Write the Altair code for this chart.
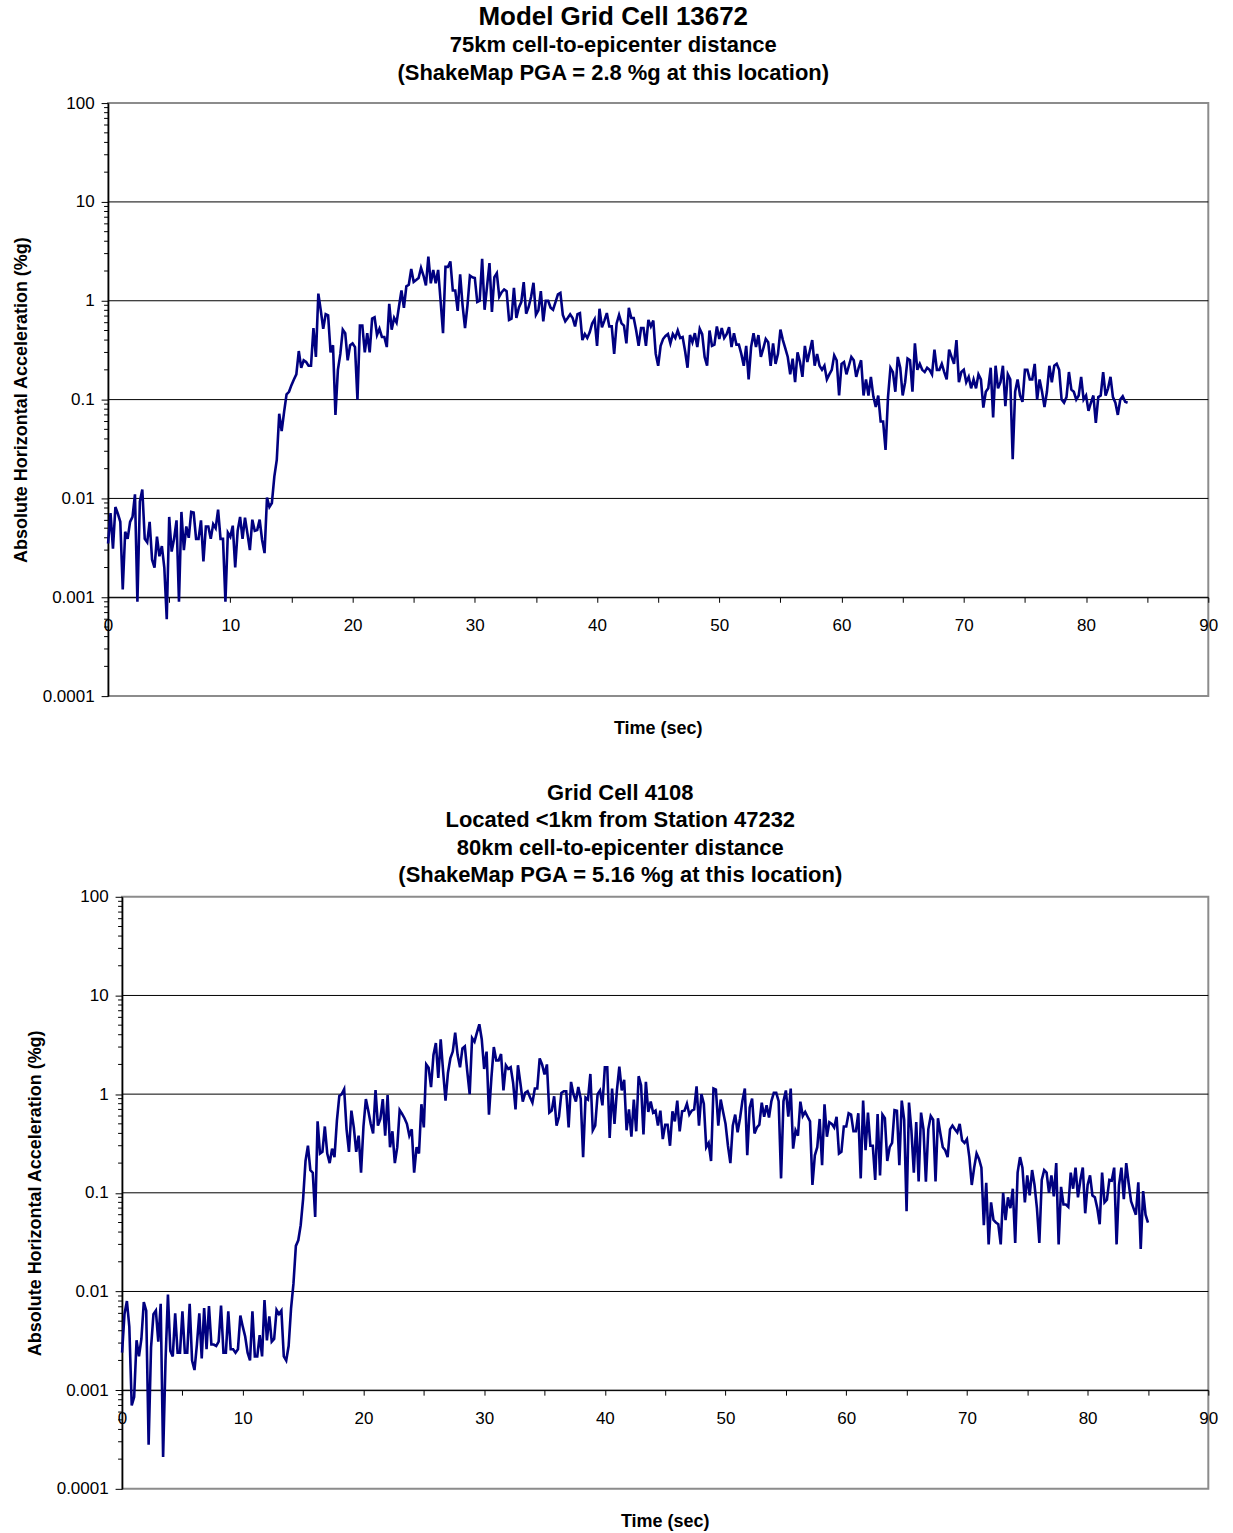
import altair as alt
import pandas as pd

FONT = "Liberation Sans"
DT = 0.2  # sampling interval of the records (s)

# Panel 1 - Model Grid Cell 13672 (absolute horizontal acceleration, %g)
acc1 = [
    0.0035, 0.0071, 0.0031, 0.0082, 0.007, 0.0058, 0.0012, 0.0046, 0.0039, 0.0058,
    0.0065, 0.011, 0.0009, 0.0093, 0.0123, 0.0039, 0.0036, 0.0058, 0.0024, 0.002,
    0.0041, 0.0026, 0.0033, 0.002, 0.0006, 0.0065, 0.0029, 0.0039, 0.006, 0.0009,
    0.0073, 0.003, 0.0052, 0.004, 0.0073, 0.0072, 0.0039, 0.0039, 0.006, 0.0023,
    0.0052, 0.0052, 0.0039, 0.0055, 0.005, 0.0077, 0.0039, 0.0039, 0.0009, 0.0045,
    0.0041, 0.0053, 0.002, 0.0047, 0.0065, 0.0039, 0.0064, 0.0044, 0.003, 0.0061,
    0.0047, 0.0048, 0.0061, 0.0038, 0.0028, 0.0102, 0.0082, 0.009, 0.0166, 0.0245,
    0.072, 0.048, 0.075, 0.113, 0.12, 0.14, 0.16, 0.18, 0.31, 0.21,
    0.25, 0.24, 0.22, 0.22, 0.53, 0.27, 1.18, 0.80, 0.52, 0.73,
    0.71, 0.30, 0.355, 0.07, 0.2, 0.29, 0.51, 0.47, 0.25, 0.355,
    0.37, 0.34, 0.1, 0.56, 0.56, 0.30, 0.47, 0.30, 0.66, 0.68,
    0.45, 0.52, 0.43, 0.43, 0.34, 0.93, 0.51, 0.67, 0.60, 0.88,
    1.27, 0.85, 1.4, 1.45, 2.1, 1.55, 1.62, 1.7, 2.15, 1.8,
    1.43, 2.8, 1.5, 2.05, 1.5, 2.05, 1.0, 0.47, 2.2, 2.2,
    2.5, 1.27, 1.27, 0.79, 1.85, 0.9, 0.53, 0.9, 1.8, 1.73,
    1.7, 0.97, 1.0, 2.65, 0.81, 1.4, 2.4, 0.77, 1.73, 1.9,
    1.1, 1.22, 1.3, 1.25, 0.64, 0.66, 1.35, 0.67, 0.85, 0.97,
    1.54, 0.74, 0.86, 1.09, 1.52, 0.72, 0.8, 1.25, 0.62, 1.0,
    1.0, 0.85, 0.81, 0.97, 1.16, 1.2, 0.72, 0.62, 0.67, 0.73,
    0.67, 0.55, 0.73, 0.75, 0.4, 0.46, 0.42, 0.48, 0.59, 0.65,
    0.35, 0.83, 0.54, 0.63, 0.75, 0.55, 0.55, 0.29, 0.59, 0.72,
    0.59, 0.56, 0.37, 0.85, 0.67, 0.67, 0.5, 0.35, 0.53, 0.53,
    0.35, 0.64, 0.55, 0.63, 0.29, 0.22, 0.35, 0.41, 0.44, 0.46,
    0.37, 0.46, 0.42, 0.5, 0.42, 0.43, 0.31, 0.21, 0.45, 0.38,
    0.47, 0.34, 0.52, 0.46, 0.27, 0.22, 0.5, 0.35, 0.36, 0.55,
    0.41, 0.53, 0.42, 0.46, 0.54, 0.34, 0.47, 0.36, 0.36, 0.29,
    0.22, 0.35, 0.16, 0.34, 0.47, 0.34, 0.45, 0.27, 0.33, 0.41,
    0.38, 0.22, 0.37, 0.23, 0.29, 0.51, 0.4, 0.33, 0.27, 0.18,
    0.26, 0.15, 0.3, 0.24, 0.17, 0.35, 0.24, 0.31, 0.40, 0.22,
    0.29, 0.22, 0.2, 0.22, 0.16, 0.18, 0.2, 0.28, 0.25, 0.11,
    0.23, 0.24, 0.18, 0.22, 0.27, 0.25, 0.17, 0.21, 0.25, 0.11,
    0.16, 0.11, 0.17, 0.108, 0.084, 0.11, 0.06, 0.06, 0.031, 0.106,
    0.21, 0.19, 0.12, 0.27, 0.21, 0.11, 0.15, 0.26, 0.25, 0.12,
    0.37, 0.2, 0.23, 0.2, 0.19, 0.21, 0.2, 0.18, 0.32, 0.2,
    0.2, 0.23, 0.19, 0.16, 0.32, 0.27, 0.23, 0.40, 0.15, 0.19,
    0.2, 0.15, 0.17, 0.13, 0.16, 0.13, 0.18, 0.16, 0.083, 0.12,
    0.13, 0.21, 0.066, 0.22, 0.13, 0.15, 0.22, 0.086, 0.18, 0.16,
    0.025, 0.12, 0.16, 0.11, 0.095, 0.2, 0.2, 0.16, 0.16, 0.23,
    0.1, 0.16, 0.12, 0.084, 0.12, 0.22, 0.15, 0.22, 0.23, 0.2,
    0.1, 0.093, 0.106, 0.19, 0.126, 0.12, 0.1, 0.11, 0.17, 0.1,
    0.11, 0.077, 0.093, 0.11, 0.058, 0.106, 0.11, 0.19, 0.11, 0.13,
    0.17, 0.106, 0.093, 0.07, 0.1, 0.108, 0.095, 0.093,
]

# Panel 2 - Grid Cell 4108 (absolute horizontal acceleration, %g)
acc2 = [
    0.0024, 0.0059, 0.008, 0.0044, 0.0007, 0.00085, 0.0032, 0.0022, 0.0033, 0.0078,
    0.0064, 0.00028, 0.0027, 0.0059, 0.0064, 0.0031, 0.0075, 0.00021, 0.002, 0.0093,
    0.0025, 0.0022, 0.006, 0.0024, 0.0024, 0.0063, 0.0024, 0.0024, 0.0075, 0.002,
    0.0016, 0.0029, 0.006, 0.0021, 0.0068, 0.0026, 0.0071, 0.0029, 0.0029, 0.0028,
    0.0031, 0.0072, 0.0024, 0.0024, 0.0063, 0.0026, 0.0026, 0.0024, 0.0026, 0.0057,
    0.0044, 0.0035, 0.0024, 0.002, 0.0063, 0.0022, 0.0022, 0.0036, 0.0022, 0.0082,
    0.0032, 0.0056, 0.0031, 0.0033, 0.0065, 0.0059, 0.0064, 0.0022, 0.002, 0.0028,
    0.0067, 0.012, 0.029, 0.033, 0.047, 0.087, 0.21, 0.30, 0.17, 0.16,
    0.057, 0.53, 0.25, 0.26, 0.47, 0.25, 0.2, 0.28, 0.23, 0.54,
    0.96, 1.0, 1.12, 0.44, 0.26, 0.68, 0.46, 0.26, 0.38, 0.16,
    0.47, 0.89, 0.68, 0.5, 0.4, 1.1, 0.48, 0.56, 0.89, 0.38,
    0.98, 0.29, 0.42, 0.2, 0.29, 0.69, 0.63, 0.57, 0.5, 0.38,
    0.44, 0.16, 0.29, 0.25, 0.79, 0.46, 2.0, 1.85, 1.18, 2.5,
    3.3, 1.46, 3.6, 1.7, 0.86, 1.64, 2.3, 2.7, 4.2, 2.5,
    1.87, 2.9, 3.05, 1.7, 1.0, 3.7, 3.4, 4.2, 5.1, 3.6,
    1.8, 2.7, 0.62, 1.46, 3.0, 2.2, 2.2, 2.55, 1.09, 1.96,
    1.8, 1.87, 1.3, 0.7, 1.96, 1.3, 0.84, 1.03, 1.07, 0.93,
    0.82, 1.14, 1.14, 2.3, 2.0, 1.58, 2.0, 0.65, 0.68, 0.95,
    0.48, 0.59, 1.03, 1.07, 1.07, 0.46, 1.33, 1.0, 0.84, 1.18,
    0.9, 0.23, 0.92, 0.88, 1.6, 0.43, 0.48, 1.0, 1.09, 0.77,
    1.87, 1.87, 0.36, 1.14, 0.5, 1.09, 1.9, 1.09, 1.4, 0.43,
    0.7, 0.37, 0.88, 0.42, 1.52, 1.23, 0.39, 1.33, 0.66, 0.84,
    0.65, 0.68, 0.48, 0.68, 0.35, 0.49, 0.49, 0.3, 0.67, 0.53,
    0.86, 0.42, 0.67, 0.68, 0.8, 0.62, 0.68, 0.7, 1.2, 0.48,
    1.0, 0.8, 0.29, 0.32, 0.21, 1.14, 1.11, 0.48, 0.88, 0.66,
    0.5, 0.3, 0.2, 0.48, 0.62, 0.41, 0.57, 0.86, 1.14, 0.24,
    0.73, 0.9, 0.4, 0.46, 0.49, 0.82, 0.59, 0.77, 0.58, 0.85,
    1.03, 1.03, 0.85, 0.14, 0.85, 1.09, 0.59, 1.14, 0.28, 0.43,
    0.38, 0.84, 0.6, 0.66, 0.59, 0.53, 0.12, 0.24, 0.29, 0.56,
    0.19, 0.79, 0.37, 0.52, 0.5, 0.46, 0.59, 0.25, 0.26, 0.47,
    0.47, 0.64, 0.62, 0.42, 0.42, 0.64, 0.14, 0.86, 0.27, 0.65,
    0.3, 0.3, 0.135, 0.63, 0.15, 0.62, 0.57, 0.21, 0.29, 0.32,
    0.69, 0.68, 0.19, 0.86, 0.55, 0.065, 0.82, 0.43, 0.16, 0.52,
    0.13, 0.65, 0.44, 0.13, 0.44, 0.6, 0.55, 0.13, 0.57, 0.4,
    0.29, 0.27, 0.23, 0.44, 0.48, 0.44, 0.41, 0.5, 0.34, 0.32,
    0.35, 0.23, 0.12, 0.18, 0.25, 0.22, 0.18, 0.047, 0.126, 0.03,
    0.08, 0.053, 0.05, 0.048, 0.03, 0.1, 0.053, 0.09, 0.07, 0.11,
    0.031, 0.16, 0.23, 0.18, 0.08, 0.15, 0.094, 0.17, 0.12, 0.07,
    0.031, 0.135, 0.17, 0.16, 0.1, 0.15, 0.092, 0.2, 0.03, 0.115,
    0.076, 0.076, 0.072, 0.16, 0.11, 0.18, 0.09, 0.135, 0.18, 0.062,
    0.12, 0.15, 0.094, 0.09, 0.07, 0.048, 0.16, 0.08, 0.085, 0.135,
    0.133, 0.18, 0.03, 0.12, 0.18, 0.086, 0.2, 0.125, 0.082, 0.07,
    0.06, 0.128, 0.027, 0.104, 0.06, 0.05,
]

title1 = "Model Grid Cell 13672"
subtitle1 = ["75km cell-to-epicenter distance", "(ShakeMap PGA = 2.8 %g at this location)"]
title2 = [
    "Grid Cell 4108",
    "Located <1km from Station 47232",
    "80km cell-to-epicenter distance",
    "(ShakeMap PGA = 5.16 %g at this location)",
]
y_label = "Absolute Horizontal Acceleration (%g)"
x_label = "Time (sec)"

y_ticks = [0.0001, 0.001, 0.01, 0.1, 1, 10, 100]
grid_vals = [0.001, 0.01, 0.1, 1, 10]
minor_vals = [m * d for d in [0.0001, 0.001, 0.01, 0.1, 1, 10] for m in range(2, 10)]
x_ticks = list(range(0, 95, 5))

yscale = alt.Scale(type="log", domain=[0.0001, 100], nice=False)
xscale = alt.Scale(domain=[0, 90], nice=False)
yaxis = alt.Axis(
    values=y_ticks, format="~g", grid=False,
    domainColor="black", domainWidth=1.5,
    tickColor="black", tickSize=7, tickWidth=1,
    labelFont=FONT, labelFontSize=17, labelColor="black", labelPadding=7,
    title=y_label, titleFont=FONT, titleFontSize=18,
    titleFontWeight="bold", titleColor="black", titlePadding=12,
)


def panel(acc, width, height, title, extra_right):
    df = pd.DataFrame({"t": [round(i * DT, 2) for i in range(len(acc))], "acc": acc})

    grid = alt.Chart(pd.DataFrame({"acc": grid_vals})).mark_rule(
        color="black", strokeWidth=1
    ).encode(y=alt.Y("acc:Q", scale=yscale, axis=yaxis))

    minor = alt.Chart(pd.DataFrame({"acc": minor_vals})).mark_rule(
        color="black", strokeWidth=1
    ).encode(
        x=alt.value(-4), x2=alt.value(0),
        y=alt.Y("acc:Q", scale=yscale, axis=yaxis),
    )

    line = alt.Chart(df).mark_line(color="#000080", strokeWidth=2.6).encode(
        x=alt.X(
            "t:Q", scale=xscale,
            axis=alt.Axis(
                values=x_ticks,
                labelExpr="datum.value % 10 == 0 ? datum.label : ''",
                offset=-height / 6.0,
                title=None, grid=False,
                domainColor="black", domainWidth=1,
                tickColor="black", tickSize=5, tickWidth=1,
                labelFlush=False, labelFont=FONT, labelFontSize=17,
                labelColor="black", labelPadding=15,
            ),
        ),
        y=alt.Y("acc:Q", scale=yscale, axis=yaxis),
    )

    xtitle = alt.Chart(pd.DataFrame({"s": [x_label]})).mark_text(
        font=FONT, fontSize=18, fontWeight="bold", color="black"
    ).encode(text="s:N", x=alt.value(width / 2), y=alt.value(height + 33))

    layers = [grid, minor, line, xtitle]
    if extra_right:
        spacer = alt.Chart(pd.DataFrame({"acc": [1]})).mark_rule(
            color="white", strokeWidth=1
        ).encode(
            x=alt.value(width + extra_right - 1), x2=alt.value(width + extra_right),
            y=alt.Y("acc:Q", scale=yscale, axis=yaxis),
        )
        layers.append(spacer)

    return alt.layer(*layers).properties(width=width, height=height, title=title)


t1 = alt.Title(
    text=title1, subtitle=subtitle1, anchor="middle", frame="group", dx=-45,
    font=FONT, fontSize=26, fontWeight="bold", color="black",
    subtitleFont=FONT, subtitleFontSize=22, subtitleFontWeight="bold",
    subtitleColor="black", subtitleLineHeight=28, subtitlePadding=5, offset=10,
)
t2 = alt.Title(
    text=title2, anchor="middle", frame="group", dx=-45, lineHeight=27.3,
    font=FONT, fontSize=22, fontWeight="bold", color="black", offset=1,
)

p1 = panel(acc1, 1102, 594, t1, 23)
p2 = panel(acc2, 1088, 593, t2, 0)

chart = alt.vconcat(p1, p2, spacing=42, center=True).properties(
    padding={"left": 11, "top": 2, "right": 0, "bottom": 2}
).configure_view(stroke="#8c8c8c", strokeWidth=2)

chart.save("out.html", embed_options={"renderer": "svg", "actions": False})
